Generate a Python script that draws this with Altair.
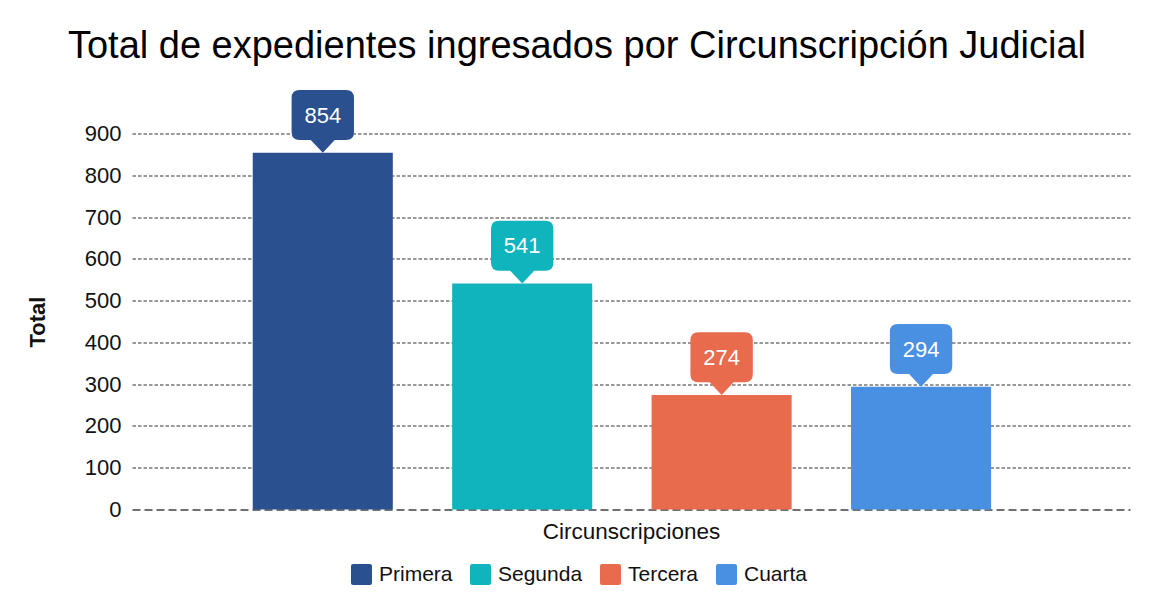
import altair as alt
import pandas as pd

circunscripciones = ["Primera", "Segunda", "Tercera", "Cuarta"]
totales = [854, 541, 274, 294]
colores = ["#2A5090", "#10B4BC", "#E86B4D", "#4A90E2"]
y_ticks = [0, 100, 200, 300, 400, 500, 600, 700, 800, 900]

titulo = "Total de expedientes ingresados por Circunscripción Judicial"

df = pd.DataFrame({"Circunscripcion": circunscripciones, "Total": totales})

FONT = "Liberation Sans"

callout_path = (
    "M -0.368 -0.995 L 0.368 -0.995 Q 0.495 -0.995 0.495 -0.868 "
    "L 0.495 -0.329 Q 0.495 -0.202 0.368 -0.202 L 0.19 -0.202 L 0 0 "
    "L -0.19 -0.202 L -0.368 -0.202 Q -0.495 -0.202 -0.495 -0.329 "
    "L -0.495 -0.868 Q -0.495 -0.995 -0.368 -0.995 Z"
)

legend_square = (
    "M -0.8 -1 L 0.8 -1 Q 1 -1 1 -0.8 L 1 0.8 Q 1 1 0.8 1 "
    "L -0.8 1 Q -1 1 -1 0.8 L -1 -0.8 Q -1 -1 -0.8 -1 Z"
)

x = alt.X(
    "Circunscripcion:N",
    sort=circunscripciones,
    scale=alt.Scale(paddingInner=0.2976, paddingOuter=0.651, align=0.465),
    axis=alt.Axis(
        title="Circunscripciones",
        labels=False,
        ticks=False,
        domain=True,
        domainDash=[8, 4],
        domainColor="#707070",
        domainWidth=2,
        titleFontSize=22.5,
        titleFont=FONT,
        titleFontWeight="normal",
        titleColor="#111111",
        titleY=29,
        titleBaseline="alphabetic",
    ),
)

y = alt.Y(
    "Total:Q",
    scale=alt.Scale(domain=[0, 900], nice=False),
    axis=alt.Axis(
        values=y_ticks,
        title="Total",
        labelFontSize=22,
        labelFont=FONT,
        labelColor="#111111",
        labelPadding=11,
        ticks=False,
        domain=False,
        grid=True,
        gridDash=[3.5, 2],
        gridColor="#777777",
        gridWidth=1.3,
        gridOpacity={"condition": {"test": "datum.value === 0", "value": 0}, "value": 1},
        titleFont=FONT,
        titleFontSize=22,
        titleFontWeight="bold",
        titleColor="#111111",
        titleX=-95,
        titleY=188,
        titleAngle=270,
        titleAlign="center",
        titleBaseline="middle",
    ),
)

legend = alt.Legend(
    title=None,
    orient="none",
    legendX=219,
    legendY=430.5,
    direction="horizontal",
    symbolType=legend_square,
    symbolSize=441,
    symbolStrokeWidth=0,
    labelFontSize=21,
    labelFont=FONT,
    labelColor="#111111",
    labelOffset=7,
    columnPadding=17,
    padding=0,
)

color = alt.Color(
    "Circunscripcion:N",
    sort=circunscripciones,
    scale=alt.Scale(domain=circunscripciones, range=colores),
    legend=legend,
)

bars = alt.Chart(df).mark_bar().encode(x=x, y=y, color=color)

callout = alt.Chart(df).mark_point(
    shape=callout_path, size=15876, filled=True, opacity=1, strokeWidth=0
).encode(x=x, y=y, color=color)

labels = alt.Chart(df).mark_text(
    dy=-37, fontSize=22, color="white", font=FONT, baseline="middle", align="center"
).encode(x=x, y=y, text="Total:Q")

chart = alt.layer(bars, callout, labels).properties(
    width=998,
    height=376,
    title=alt.TitleParams(
        text=titulo,
        fontSize=38,
        font=FONT,
        fontWeight="normal",
        color="black",
        anchor="middle",
        dx=-54,
        dy=-20,
    ),
    autosize=alt.AutoSizeParams(type="none"),
    padding={"left": 124, "top": 125.5, "right": 20, "bottom": 90},
).configure_view(stroke=None)

chart.save("out.html", embed_options={"renderer": "svg", "actions": False})
